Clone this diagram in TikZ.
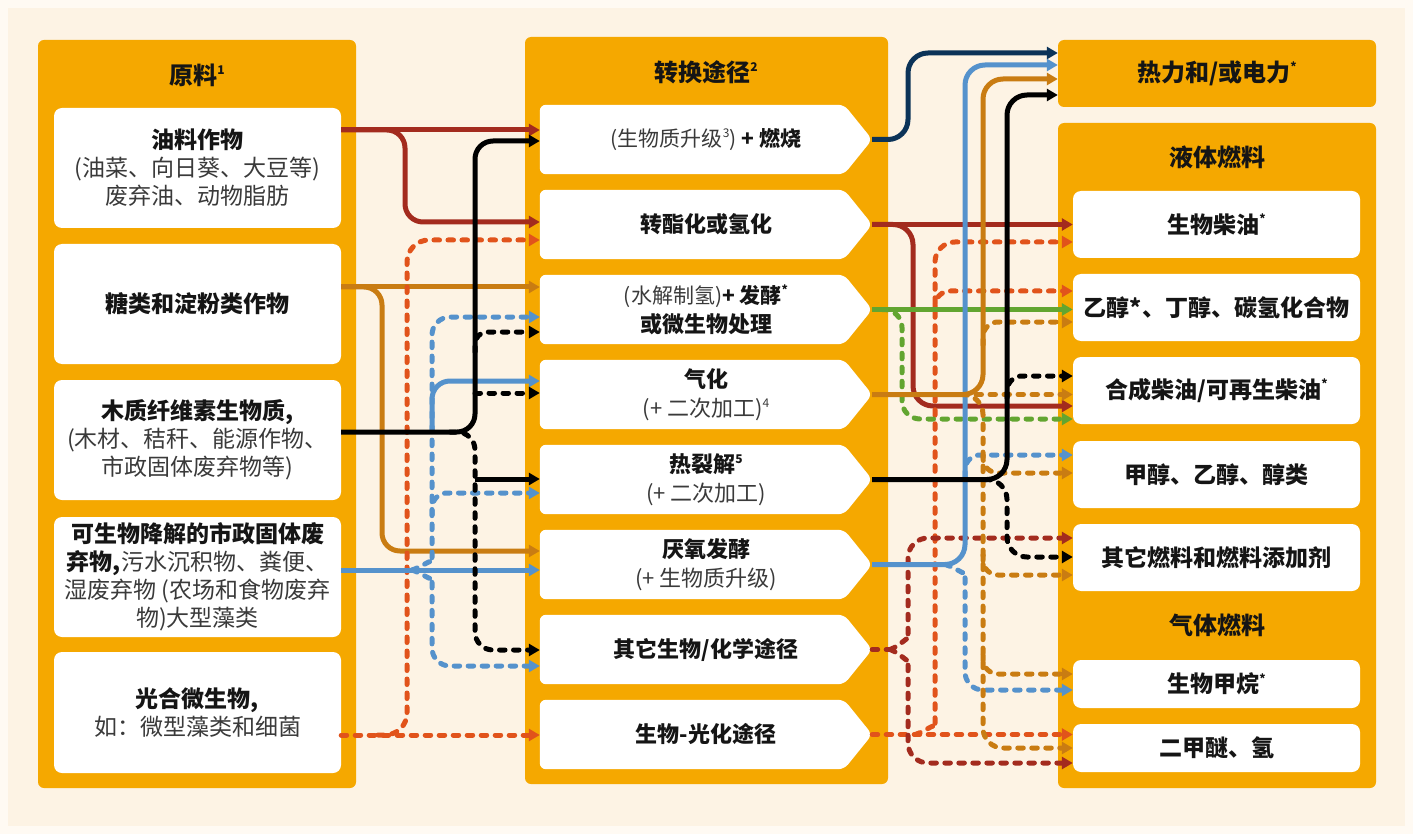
\documentclass[tikz,border=0pt]{standalone}
\usepackage{fontspec}
\setmainfont{Noto Sans CJK SC}
\usetikzlibrary{arrows.meta}
\definecolor{panel}{HTML}{F5A800}
\definecolor{cream}{HTML}{FDF3E4}
\definecolor{outer}{HTML}{FFFAF3}
\definecolor{dred}{HTML}{A32B1E}
\definecolor{ored}{HTML}{E1531B}
\definecolor{tan}{HTML}{C97C12}
\definecolor{lblue}{HTML}{5592CC}
\definecolor{navy}{HTML}{0C3358}
\definecolor{lgreen}{HTML}{62A530}
\definecolor{regtxt}{HTML}{3A3A3A}
\definecolor{boldtxt}{HTML}{151515}
\pgfdeclarelayer{bg}\pgfdeclarelayer{shapes}\pgfsetlayers{bg,shapes,main}
\newcommand\rg[1]{{\mdseries\color{regtxt}#1}}
\newcommand\spx[1]{\raisebox{0.42em}{\fontsize{12}{12}\selectfont #1}}
\begin{document}
\begin{tikzpicture}[x=1pt,y=-1pt,
  font=\fontsize{23}{28}\selectfont\bfseries, text=boldtxt,
  panelbox/.style={fill=panel, rounded corners=6pt},
  lbox/.style={fill=white, rounded corners=8pt, minimum width=287pt, inner sep=0pt, align=center},
  rbox/.style={fill=white, rounded corners=8pt, minimum width=287pt, inner sep=0pt, align=center},
  midnode/.style={minimum width=332pt, minimum height=69pt, inner sep=0pt, align=center, font=\fontsize{22}{29}\selectfont\bfseries},
  ttl/.style={font=\fontsize{24}{28}\selectfont\bfseries},
  con/.style={line width=5pt, -{Triangle[length=11pt,width=12pt]}, rounded corners=18pt},
  dsh/.style={con, dash pattern=on 5.5pt off 8.5pt, line cap=round}]
\useasboundingbox (0,0) rectangle (1413,834);

% ---------- left column ----------
\node[lbox, minimum height=120pt] (oil) at (197.5,168) {油料作物\\\rg{(油菜、向日葵、大豆等)}\\\rg{废弃油、动物脂肪}};
\node[lbox, minimum height=120pt] (sugar) at (197.5,304) {糖类和淀粉类作物};
\node[lbox, minimum height=120pt] (wood) at (197.5,440) {木质纤维素生物质,\\\rg{(木材、秸秆、能源作物、}\\\rg{市政固体废弃物等)}};
\node[lbox, minimum height=120pt] (bio) at (197.5,577) {可生物降解的市政固体废\\弃物,\rg{污水沉积物、粪便、}\\\rg{湿废弃物 (农场和食物废弃}\\\rg{物)大型藻类}};
\node[lbox, minimum height=121pt] (photo) at (197.5,712.5) {光合微生物,\\\rg{如：微型藻类和细菌}};
\node[ttl] (t1) at (197,75) {原料\spx{1}};

% ---------- middle column ----------
\node[midnode] (b1) at (706,139.5) {{\fontsize{21}{28}\selectfont\rg{(生物质升级\spx{3})} + 燃烧}};
\node[midnode] (b2) at (706,224.5) {转酯化或氢化};
\node[midnode] (b3) at (706,309.5) {{\fontsize{21}{28}\selectfont\rg{(水解制氢)}+ 发酵\spx{*}}\\或微生物处理};
\node[midnode] (b4) at (706,394.5) {气化\\\rg{(+ 二次加工)\spx{4}}};
\node[midnode] (b5) at (706,479.5) {热裂解\spx{5}\\\rg{(+ 二次加工)}};
\node[midnode] (b6) at (706,564.5) {厌氧发酵\\\rg{(+ 生物质升级)}};
\node[midnode] (b7) at (706,649.5) {其它生物/化学途径};
\node[midnode] (b8) at (706,734.5) {生物-光化途径};
\node[ttl] (t2) at (706,72) {转换途径\spx{2}};

% ---------- right column ----------
\node[panelbox, minimum width=318pt, minimum height=67pt, inner sep=0pt, font=\fontsize{24}{28}\selectfont\bfseries] (heat) at (1217,73.5) {热力和/或电力\spx{*}};
\node[ttl] (t3) at (1217,157) {液体燃料};
\node[rbox, minimum height=67pt] (f1) at (1216.5,224.5) {生物柴油\spx{*}};
\node[rbox, minimum height=67pt] (f2) at (1216.5,307.5) {乙醇*、丁醇、碳氢化合物};
\node[rbox, minimum height=67pt] (f3) at (1216.5,390.5) {合成柴油/可再生柴油\spx{*}};
\node[rbox, minimum height=67pt] (f4) at (1216.5,474.5) {甲醇、乙醇、醇类};
\node[rbox, minimum height=67pt] (f5) at (1216.5,557.5) {其它燃料和燃料添加剂};
\node[ttl] (t4) at (1217,625) {气体燃料};
\node[rbox, minimum height=48pt] (f6) at (1216.5,684) {生物甲烷\spx{*}};
\node[rbox, minimum height=48pt] (f7) at (1216.5,748) {二甲醚、氢};

% ---------- backgrounds ----------
\begin{pgfonlayer}{bg}
  \fill[outer] (0,0) rectangle (1413,834);
  \fill[cream] (8,8) rectangle (1405,826);
  \fill[panelbox] (38,40) rectangle (356,788);
  \fill[panelbox] (525,37) rectangle (888,784);
  \fill[panelbox] (1058,123) rectangle (1376,788);
\end{pgfonlayer}
\begin{pgfonlayer}{shapes}
  \foreach \b in {b1,b2,b3,b4,b5,b6,b7,b8}{
    \fill[white, rounded corners=6pt] (\b.north west) -- ([xshift=-28pt]\b.north east) -- (\b.east) -- ([xshift=-28pt]\b.south east) -- (\b.south west) -- cycle;
  }
\end{pgfonlayer}

% ---------- connectors: sources to pathways ----------
\draw[con, dred] (oil.east |- 0,130) -- (b1.west |- 0,130);
\draw[con, dred] (oil.east |- 0,130) -- (405,130) -- (405,222) -- (b2.west |- 0,222);
\draw[con, tan] (sugar.east |- 0,287) -- (b3.west |- 0,287);
\draw[con, tan] (sugar.east |- 0,287) -- (382,287) -- (382,551) -- (b6.west |- 0,551);
\draw[dsh, ored] (photo.east |- 0,735) -- (b8.west |- 0,735);
\draw[dsh, ored, rounded corners=22pt] (378,735) -- (407,735) -- (407,240) -- (b2.west |- 0,240);
\draw[con, lblue] (bio.east |- 0,570) -- (b6.west |- 0,570);
\draw[dsh, lblue] (412,570) .. controls (424,566) and (432,558) .. (432,545) -- (432,317) -- (b3.west |- 0,317);
\draw[dsh, lblue] (412,570) .. controls (424,574) and (432,582) .. (432,595) -- (432,666) -- (b7.west |- 0,666);
\draw[dsh, lblue, rounded corners=15pt] (432,515) -- (432,493) -- (b5.west |- 0,493);
\draw[con, lblue] (432,431) -- (432,381) -- (b4.west |- 0,381);
\draw[con, black] (wood.east |- 0,432) -- (475,432) -- (475,141) -- (b1.west |- 0,141);
\draw[dsh, black] (450,432) -- (475,432) -- (475,650) -- (b7.west |- 0,650);
\draw[con, black] (475,479) -- (b5.west |- 0,479);
\draw[dsh, black] (475,393) -- (b4.west |- 0,393);
\draw[dsh, black, rounded corners=12pt] (475,352) -- (475,332) -- (b3.west |- 0,332);

% ---------- connectors: pathways to products ----------
\draw[con, navy, rounded corners=20pt] (b1.east) -- (908,139.5) -- (908,53) -- (heat.west |- 0,53);
\draw[con, dred] (b2.east) -- (f1.west |- b2.east);
\draw[con, dred, rounded corners=20pt] (b2.east) -- (913,224.5) -- (913,406) -- (f3.west |- 0,406);
\draw[dsh, ored] (b8.east) -- (f7.west |- b8.east);
\draw[dsh, ored, rounded corners=20pt] (915,734.5) .. controls (927,731) and (935,722) .. (935,708) -- (935,242) -- (f1.west |- 0,242);
\draw[dsh, ored, rounded corners=15pt] (935,310) -- (935,291) -- (f2.west |- 0,291);
\draw[con, lgreen] (b3.east) -- (f2.west |- b3.east);
\draw[dsh, lgreen] (882,309.5) -- (902,309.5) -- (902,419) -- (f3.west |- 0,419);
\draw[dsh, dred, -] (b7.east) -- (890,649.5);
\draw[dsh, dred, rounded corners=20pt] (890,649.5) .. controls (902,645) and (908,635) .. (908,620) -- (908,538) -- (f5.west |- 0,538);
\draw[dsh, dred, rounded corners=20pt] (890,649.5) .. controls (902,654) and (908,664) .. (908,679) -- (908,763) -- (f7.west |- 0,763);
\draw[con, lblue, rounded corners=20pt] (b6.east) -- (965,564.5) -- (965,65) -- (heat.west |- 0,65);
\draw[dsh, lblue, rounded corners=15pt] (965,477) -- (965,455) -- (f4.west |- 0,455);
\draw[dsh, lblue, rounded corners=18pt] (945,564.5) .. controls (957,568) and (965,576) .. (965,590) -- (965,690) -- (f6.west |- 0,690);
\draw[con, tan, rounded corners=20pt] (b4.east) -- (983,394.5) -- (983,79) -- (heat.west |- 0,79);
\draw[dsh, tan] (962,394.5) -- (f3.west |- b4.east);
\draw[dsh, tan, rounded corners=20pt] (962,394.5) -- (983,394.5) -- (983,748) -- (f7.west |- 0,748);
\draw[dsh, tan, rounded corners=15pt] (983,345) -- (983,322) -- (f2.west |- 0,322);
\draw[dsh, tan, rounded corners=15pt] (983,455) -- (983,473) -- (f4.west |- 0,473);
\draw[dsh, tan, rounded corners=15pt] (983,555) -- (983,575) -- (f5.west |- 0,575);
\draw[dsh, tan, rounded corners=15pt] (983,655) -- (983,674) -- (f6.west |- 0,674);
\draw[con, black, rounded corners=20pt] (b5.east) -- (1007,479.5) -- (1007,95) -- (heat.west |- 0,95);
\draw[dsh, black, rounded corners=15pt] (1007,398) -- (1007,376) -- (f3.west |- 0,376);
\draw[dsh, black, rounded corners=20pt] (985,479.5) -- (1007,479.5) -- (1007,557) -- (f5.west |- 0,557);
\end{tikzpicture}
\end{document}
